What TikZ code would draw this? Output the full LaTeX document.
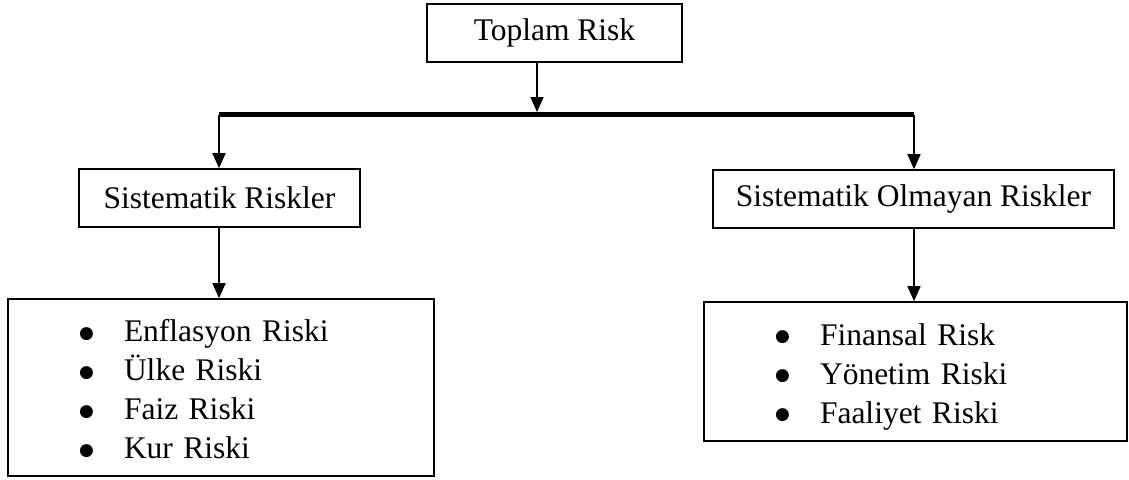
\documentclass[tikz,border=0pt]{standalone}
\usepackage{fontspec}
\setmainfont{Liberation Serif}
\newfontfamily\isaret{DejaVu Sans}
\usetikzlibrary{arrows.meta}
\newcommand{\madde}{\raisebox{3.5pt}{\isaret\fontsize{17}{39}\selectfont ●}}

\begin{document}
\begin{tikzpicture}[x=1pt,y=-1pt]
                \tikzset{every node/.style={font=\fontsize{31.5}{39}\selectfont},
                  kutu/.style={draw,line width=1.6pt,inner sep=0pt},
                  liste/.style={kutu,inner xsep=71pt,inner ysep=0pt,align=left},
                  ok/.style={line width=1.6pt,-{Triangle[length=15pt,width=13pt]}}}
                \useasboundingbox (0,0) rectangle (1129,479);
                % boxes
                \node [kutu,minimum width=255pt,minimum height=58pt] (toplam) at (554.5,33) {Toplam Risk};
                \node [kutu,minimum width=281pt,minimum height=58pt] (sistematik) at (219.5,198) {Sistematik Riskler};
                \node [kutu,minimum width=401pt,minimum height=58pt] (olmayan) at (913.5,199) {Sistematik Olmayan Riskler};
                \node [liste,text width=284pt,minimum height=177pt] (sistematikListe) at (221,387.5)
                  {\begin{tabular}{@{}p{45pt}@{}l@{}}
                    \rule{0pt}{37pt}\madde & Enflasyon Riski\\
                    \madde & Ülke Riski\\
                    \madde & Faiz Riski\\
                    \madde & Kur Riski
                  \end{tabular}};
                \node [liste,text width=281pt,minimum height=139pt] (olmayanListe) at (915.5,371.5)
                  {\begin{tabular}{@{}p{45pt}@{}l@{}}
                    \rule{0pt}{37pt}\madde & Finansal Risk\\
                    \madde & Yönetim Riski\\
                    \madde & Faaliyet Riski
                  \end{tabular}};
                % bar
                \coordinate (solUc) at (219,114.5);
                \coordinate (sagUc) at (914,114.5);
                \coordinate (ortaUc) at (537,112);
                \draw [line width=5pt] (solUc) -- (sagUc);
                \draw [ok] (ortaUc |- toplam.south) -- (ortaUc);
                \draw [ok] (solUc) -- (solUc |- sistematik.north);
                \draw [ok] (sagUc) -- (sagUc |- olmayan.north);
                \draw [ok] (solUc |- sistematik.south) -- (solUc |- sistematikListe.north);
                \draw [ok] (sagUc |- olmayan.south) -- (sagUc |- olmayanListe.north);
            \end{tikzpicture}
\end{document}
